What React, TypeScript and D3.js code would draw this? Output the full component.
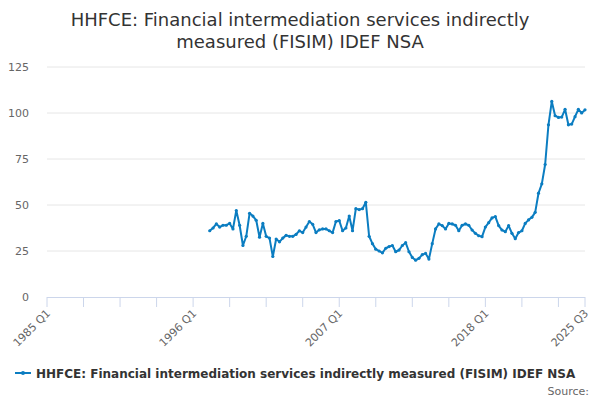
import React, { useEffect, useRef } from 'react';
import * as d3 from 'd3';

// quarterly values, 1997 Q2 .. 2025 Q3
const values: number[] = [
  36, 37.5, 39.7, 38, 39, 39, 40, 37, 47, 39, 28, 33, 45.5, 44, 41.7, 32.5, 40, 33, 32, 22,
  31.5, 30, 32, 33.5, 33, 33, 34, 36, 35, 38, 41, 39.5, 35, 36.5, 37, 37, 36, 35, 41, 41.5,
  36, 37.5, 44, 36, 48, 47.5, 48, 51.5, 33, 29, 26, 25,
  24, 26.5, 27.4, 28, 24.6, 25.5, 28, 29.5, 24.6, 21.5, 20, 21, 23, 23.7, 20.6, 29, 37, 39.7,
  38.8, 37, 40, 39.7, 39, 36, 39, 39.7, 39, 36.4, 34.6, 33.3, 32.8, 38, 40.4, 43, 43.7, 38.8,
  36.4, 35.5, 38.8, 34.6, 31.7, 35, 36, 40, 41.9, 43.3, 46, 56.4, 61.5, 72, 93.6, 106.3, 98.5,
  97.6, 97.8, 102, 93.6, 94, 98, 102, 100, 101.7,
];
const startQ = (1997 - 1985) * 4 + 1; // quarter index of first value (1985 Q1 = 0)
const endQ = (2025 - 1985) * 4 + 2;
const xTickLabels = ['1985 Q1', '1996 Q1', '2007 Q1', '2018 Q1', '2025 Q3'];
const yTicks = [0, 25, 50, 75, 100, 125];
const seriesName = 'HHFCE: Financial intermediation services indirectly measured (FISIM) IDEF NSA';

const qIndex = (s: string) => {
  const [y, q] = s.split(' Q');
  return (+y - 1985) * 4 + (+q - 1);
};

export default function App() {
  const ref = useRef<SVGSVGElement>(null);

  useEffect(() => {
    if (!ref.current) return;
    const svg = d3.select(ref.current);
    svg.selectAll('*').remove();
    const font = '"DejaVu Sans", Verdana, sans-serif';

    const x = d3.scaleLinear().domain([0, endQ]).range([47, 585]);
    const y = d3.scaleLinear().domain([0, 125]).range([297, 67]);

    svg.append('text').attr('x', 300).attr('y', 26).attr('text-anchor', 'middle')
      .style('font-family', font).style('font-size', '18px').style('fill', '#333')
      .text('HHFCE: Financial intermediation services indirectly');
    svg.append('text').attr('x', 300).attr('y', 48).attr('text-anchor', 'middle')
      .style('font-family', font).style('font-size', '18px').style('fill', '#333')
      .text('measured (FISIM) IDEF NSA');

    yTicks.forEach(t => {
      if (t > 0) svg.append('line').attr('x1', 47).attr('x2', 585).attr('y1', y(t)).attr('y2', y(t))
        .attr('stroke', '#e6e6e6');
      svg.append('text').attr('x', 29).attr('y', y(t) + 4).attr('text-anchor', 'end')
        .style('font-family', font).style('font-size', '11px').style('fill', '#666').text(t);
    });

    svg.append('line').attr('x1', 47).attr('x2', 585).attr('y1', 297.5).attr('y2', 297.5)
      .attr('stroke', '#ccd6eb');
    for (let q = 0; q <= endQ; q += 11) {
      svg.append('line').attr('x1', x(q)).attr('x2', x(q)).attr('y1', 297).attr('y2', 307)
        .attr('stroke', '#ccd6eb');
    }
    svg.append('line').attr('x1', x(endQ)).attr('x2', x(endQ)).attr('y1', 297).attr('y2', 307)
      .attr('stroke', '#ccd6eb');
    xTickLabels.forEach(l => {
      const px = x(qIndex(l)) + 4;
      svg.append('text').attr('transform', `translate(${px},314) rotate(-45)`)
        .attr('text-anchor', 'end').style('font-family', font).style('font-size', '11px')
        .style('fill', '#666').text(l);
    });

    const pts = values.map((v, i) => [x(startQ + i), y(v)] as [number, number]);
    svg.append('path').attr('d', d3.line()(pts)).attr('fill', 'none')
      .attr('stroke', '#0b7dc1').attr('stroke-width', 2).attr('stroke-linejoin', 'round');
    svg.append('g').selectAll('circle').data(pts).join('circle')
      .attr('cx', d => d[0]).attr('cy', d => d[1]).attr('r', 1.6).attr('fill', '#0b7dc1');

    svg.append('line').attr('x1', 15).attr('x2', 31).attr('y1', 373).attr('y2', 373)
      .attr('stroke', '#0b7dc1').attr('stroke-width', 2);
    svg.append('circle').attr('cx', 23).attr('cy', 373).attr('r', 2).attr('fill', '#0b7dc1');
    svg.append('text').attr('x', 36).attr('y', 377.5)
      .style('font-family', font).style('font-size', '12px').style('font-weight', 'bold')
      .style('fill', '#333').text(seriesName);
    svg.append('text').attr('x', 589).attr('y', 395).attr('text-anchor', 'end')
      .style('font-family', font).style('font-size', '11px').style('fill', '#666').text('Source:');
  }, []);

  return (
    <div style={{ position: 'absolute', left: 0, top: 0 }}>
      <svg ref={ref} width={600} height={400} />
    </div>
  );
}
